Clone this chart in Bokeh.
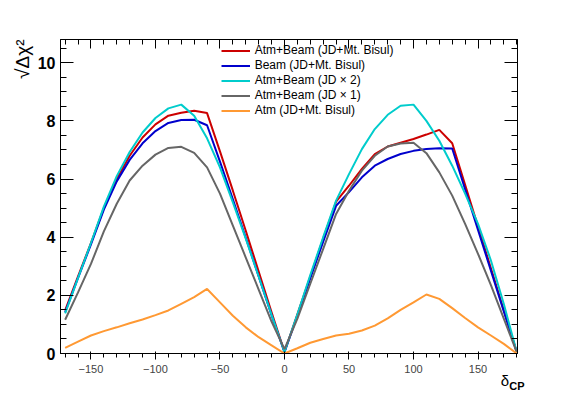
import math
from bokeh.plotting import figure
from bokeh.models import (Range1d, LinearAxis, SingleIntervalTicker, FixedTicker, Legend, LegendItem,
                          Title, CustomJSTickFormatter)
from bokeh.embed import file_html
from bokeh.resources import INLINE

delta_cp = [-170, -160, -150, -140, -130, -120, -110, -100, -90, -80, -70, -60, -50, -40, -30, -20, -10,
            0, 10, 20, 30, 40, 50, 60, 70, 80, 90, 100, 110, 120, 130, 140, 150, 160, 170, 180]

atm_beam_jd_bisul = [1.48, 2.65, 3.80, 5.00, 6.00, 6.80, 7.43, 7.88, 8.18, 8.28, 8.35, 8.27, 6.95, 5.60, 4.22, 2.82, 1.42,
                     0.05, 1.35, 2.65, 3.95, 5.22, 5.77, 6.35, 6.86, 7.12, 7.25, 7.38, 7.53, 7.69, 7.23, 5.80, 4.37, 2.93, 1.49, 0.05]
beam_jd_bisul = [1.42, 2.60, 3.75, 4.95, 5.92, 6.66, 7.23, 7.65, 7.93, 8.03, 8.04, 7.85, 6.60, 5.30, 3.98, 2.65, 1.32,
                 0.05, 1.30, 2.58, 3.85, 5.08, 5.55, 6.06, 6.46, 6.69, 6.86, 6.97, 7.03, 7.06, 7.05, 5.65, 4.25, 2.85, 1.45, 0.05]
atm_beam_jd2 = [1.38, 2.60, 3.80, 5.05, 6.10, 6.93, 7.60, 8.10, 8.43, 8.56, 8.18, 7.40, 6.40, 5.20, 3.95, 2.65, 1.33,
                0.05, 1.35, 2.70, 4.00, 5.26, 6.17, 7.03, 7.72, 8.21, 8.52, 8.56, 8.00, 7.32, 6.46, 5.50, 4.46, 3.20, 1.70, 0.05]
atm_beam_jd1 = [1.16, 2.10, 3.08, 4.20, 5.15, 5.95, 6.46, 6.84, 7.07, 7.11, 6.90, 6.40, 5.50, 4.40, 3.30, 2.20, 1.10,
                0.15, 1.20, 2.40, 3.60, 4.80, 5.60, 6.29, 6.80, 7.12, 7.22, 7.25, 6.89, 6.23, 5.43, 4.46, 3.43, 2.35, 1.20, 0.05]
atm_jd_bisul = [0.19, 0.41, 0.62, 0.77, 0.90, 1.04, 1.17, 1.32, 1.48, 1.71, 1.94, 2.22, 1.76, 1.30, 0.90, 0.56, 0.28,
                0.00, 0.18, 0.37, 0.50, 0.62, 0.68, 0.79, 0.96, 1.21, 1.50, 1.76, 2.03, 1.88, 1.56, 1.22, 0.90, 0.62, 0.33, 0.00]

series_labels = ["Atm+Beam (JD+Mt. Bisul)", "Beam (JD+Mt. Bisul)", "Atm+Beam (JD \u00d7 2)",
                 "Atm+Beam (JD \u00d7 1)", "Atm (JD+Mt. Bisul)"]
series_values = [atm_beam_jd_bisul, beam_jd_bisul, atm_beam_jd2, atm_beam_jd1, atm_jd_bisul]
series_colors = ["#cc0000", "#0000cc", "#00cccc", "#666666", "#ff9933"]

x_title_main = "\u03b4"
x_title_sub = "CP"
y_title = "\u221a\u0394\u03c7\u00b2"

FONT = "Liberation Sans"

p = figure(width=581, height=394, x_range=Range1d(-173.6, 180.6), y_range=Range1d(0, 10.8),
           output_backend="svg", toolbar_location=None,
           min_border_left=60, min_border_right=64, min_border_top=39, min_border_bottom=41)
p.grid.visible = False
p.outline_line_color = "black"
p.outline_line_width = 1

p.xaxis.ticker = SingleIntervalTicker(interval=50, num_minor_ticks=5)
p.yaxis.ticker = SingleIntervalTicker(interval=2, num_minor_ticks=4)

blank = CustomJSTickFormatter(code="return ''")
top = LinearAxis(ticker=SingleIntervalTicker(interval=50, num_minor_ticks=5), formatter=blank)
right = LinearAxis(ticker=SingleIntervalTicker(interval=2, num_minor_ticks=4), formatter=blank)
p.add_layout(top, "above")
p.add_layout(right, "right")

for ax in [p.xaxis[0], top]:
    ax.major_tick_in = 9
    ax.major_tick_out = 0
    ax.minor_tick_in = 5
    ax.minor_tick_out = 0
for ax in [p.yaxis[0], right]:
    ax.major_tick_in = 13
    ax.major_tick_out = 0
    ax.minor_tick_in = 6
    ax.minor_tick_out = 0
for ax in [p.xaxis[0], top, p.yaxis[0], right]:
    ax.axis_line_color = "black"
    ax.major_tick_line_color = "black"
    ax.minor_tick_line_color = "black"
    ax.major_label_text_font = FONT
    ax.major_label_text_font_style = "bold"
    ax.major_label_text_font_size = "16px"
    ax.major_label_text_color = "black"
p.xaxis[0].major_label_standoff = 4
p.yaxis[0].major_label_standoff = 5

# x-axis title "delta_CP" placed at the right end, as tick labels of bare helper axes
xd, xcp = 170.9, 180.2
ax_d = LinearAxis(ticker=FixedTicker(ticks=[xd]), major_label_overrides={xd: x_title_main},
                  axis_line_color=None, major_tick_line_color=None, minor_tick_line_color=None,
                  major_tick_in=0, major_tick_out=0, minor_tick_in=0, minor_tick_out=0,
                  major_label_standoff=-4, major_label_text_font=FONT, major_label_text_font_size="15px",
                  major_label_text_color="black")
ax_cp = LinearAxis(ticker=FixedTicker(ticks=[xcp]), major_label_overrides={xcp: x_title_sub},
                   axis_line_color=None, major_tick_line_color=None, minor_tick_line_color=None,
                   major_tick_in=0, major_tick_out=0, minor_tick_in=0, minor_tick_out=0,
                   major_label_standoff=-12, major_label_text_font=FONT, major_label_text_font_size="11px",
                   major_label_text_font_style="bold", major_label_text_color="black")
p.add_layout(ax_d, "below")
p.add_layout(ax_cp, "below")

p.add_layout(Title(text=y_title, align="right", text_font=FONT, text_font_size="19px",
                   text_font_style="normal", text_color="black", standoff=4), "left")

items = []
for lab, vals, col in zip(series_labels, series_values, series_colors):
    r = p.line(delta_cp, vals, line_color=col, line_width=2)
    items.append(LegendItem(label=lab, renderers=[r]))

legend = Legend(items=items, location=(160.7, 235.5), padding=0, margin=0, spacing=0,
                glyph_width=29, glyph_height=15, label_height=15, label_standoff=5,
                label_text_font=FONT, label_text_font_size="12px", label_text_color="black",
                background_fill_alpha=0, border_line_alpha=0)
p.add_layout(legend)

open("out.html", "w").write(file_html(p, INLINE))
